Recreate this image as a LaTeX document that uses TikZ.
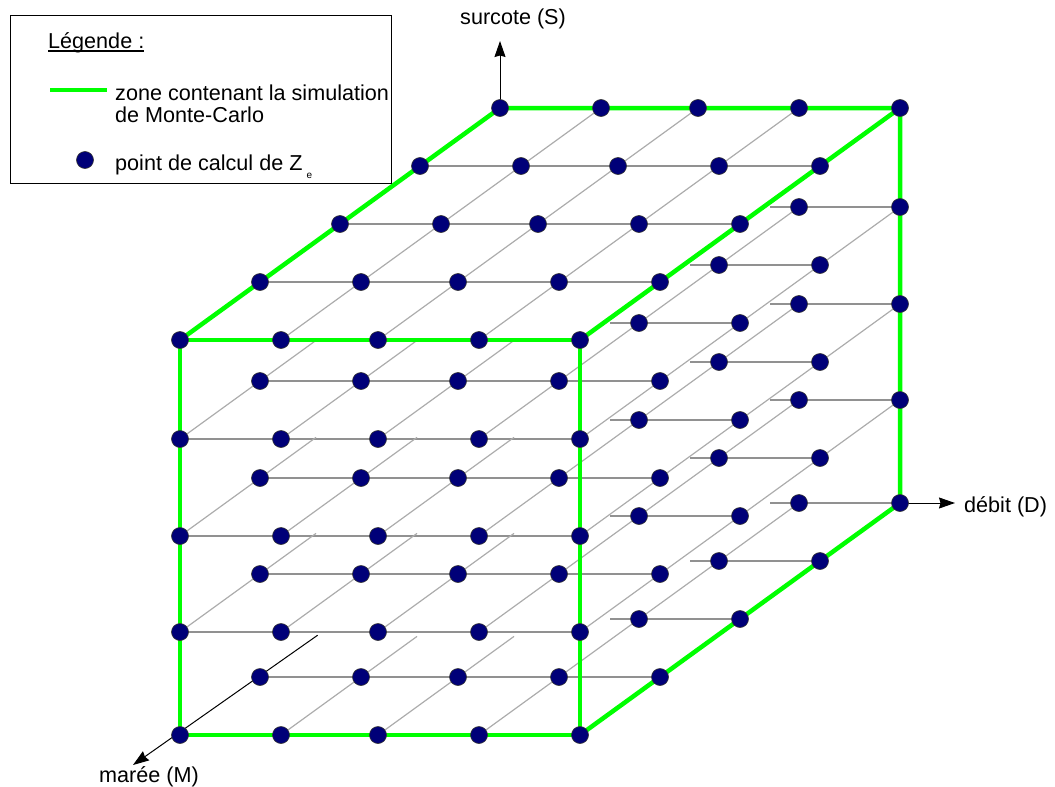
\documentclass[tikz,border=0pt]{standalone}
\usepackage{fontspec}
\setmainfont{Liberation Sans}
\usetikzlibrary{calc,arrows.meta}
\definecolor{dotblue}{RGB}{0,0,120}
\definecolor{zonegreen}{RGB}{0,255,0}
\definecolor{hgray}{RGB}{145,145,145}
\definecolor{dgray}{RGB}{172,172,172}
\begin{document}
\begin{tikzpicture}[x=1pt,y=-1pt,
  dot/.style={circle, fill=dotblue, draw=black!80, line width=0.6pt, minimum size=17pt, inner sep=0pt},
  hline/.style={hgray, line width=1.2pt},
  dline/.style={dgray, line width=1.2pt},
  zone/.style={zonegreen, line width=4.5pt},
  axis/.style={black, line width=1pt, -{Stealth[length=16pt,width=11pt,inset=1.5pt]}},
  lbl/.style={inner sep=0pt, anchor=base west, font=\fontsize{21.6}{22}\selectfont}]
\useasboundingbox (0,0) rectangle (1055,787);

% grid coordinates p-col-height-depth
\foreach \c/\x in {0/180,1/281,2/378,3/479,4/580}
  \foreach \h/\y in {0/735,1/632,2/536,3/439,4/340}
    \foreach \d in {0,...,4}
      \coordinate (p-\c-\h-\d) at ({\x+80*\d},{\y-58*\d});

% horizontal grid lines
\foreach \h in {1,2,3} \draw[hline] (p-0-\h-0) -- (p-4-\h-0);
\foreach \h in {0,...,4} \draw[hline] (p-0-\h-1) -- (p-4-\h-1);
\foreach \d in {2,3} \draw[hline] (p-0-4-\d) -- (p-4-4-\d);
\foreach \d in {2,3,4}
  \foreach \h in {0,...,3}
    \draw[hline] ($(p-0-\h-\d)!0.675!(p-4-\h-\d)$) -- (p-4-\h-\d);

% depth grid lines
\foreach \c in {1,2,3} \draw[dline] (p-\c-4-0) -- (p-\c-4-4);
\foreach \h in {0,...,3} \draw[dline] (p-3-\h-0) -- (p-3-\h-4);
\foreach \h in {1,2,3} \draw[dline] (p-4-\h-0) -- (p-4-\h-4);
\foreach \h in {1,2,3} \draw[dline] (p-0-\h-0) -- ($(p-0-\h-0)!0.425!(p-0-\h-4)$);
\foreach \c in {1,2}
  \foreach \h in {0,...,3}
    \draw[dline] (p-\c-\h-0) -- ($(p-\c-\h-0)!0.425!(p-\c-\h-4)$);

% Monte-Carlo zone
\draw[zone, line join=round] (p-0-0-0) rectangle (p-4-4-0);
\draw[zone, line join=round] (p-0-4-0) -- (p-0-4-4) -- (p-4-4-4) -- (p-4-0-4) -- (p-4-0-0);
\draw[zone, line join=round] (p-4-4-0) -- (p-4-4-4);

% axes
\coordinate (mstart) at ($(p-0-0-0)!0.43!(p-0-0-4)$);
\coordinate (mtip) at (133,765);
\coordinate (stip) at (500,41);
\coordinate (dtip) at (955,503);
\draw[axis] (mstart) -- (mtip);
\draw[axis] (p-0-4-4) -- (stip);
\draw[axis] (p-4-0-4) -- (dtip);

% points
\foreach \c in {0,...,4}
  \foreach \h in {0,...,4}
    \foreach \d in {0,1}
      \node[dot] (n-\c-\h-\d) at (p-\c-\h-\d) {};
\foreach \d in {2,3,4} {
  \foreach \c in {0,...,4} \node[dot] (n-\c-4-\d) at (p-\c-4-\d) {};
  \foreach \c in {3,4}
    \foreach \h in {0,...,3}
      \node[dot] (n-\c-\h-\d) at (p-\c-\h-\d) {};
}

% axis labels
\node[lbl] (slbl) at (460,24) {surcote (S)};
\node[lbl] (dlbl) at (964,512) {débit (D)};
\node[lbl] (mlbl) at (99,782) {marée (M)};

% legend
\node[draw=black, line width=1pt, anchor=north west, minimum width=381pt, minimum height=168pt, inner sep=0pt] (legend) at (10,15) {};
\node[lbl] (legtitle) at (48,48) {Légende :};
\draw[black, line width=1.1pt] ([yshift=-3pt]legtitle.base west) -- ([yshift=-3pt]legtitle.base east);
\coordinate (lgA) at (50,90);
\coordinate (lgB) at (107,90);
\draw[zone] (lgA) -- (lgB);
\node[lbl] (legz1) at (115,100) {zone contenant la simulation};
\node[lbl] (legz2) at (115,122) {de Monte-Carlo};
\node[dot] (legdot) at (85,160) {};
\node[lbl] (legpt) at (115,170) {point de calcul de Z\kern4pt\raisebox{-8pt}{\fontsize{10}{10}\selectfont e}};
\end{tikzpicture}
\end{document}
